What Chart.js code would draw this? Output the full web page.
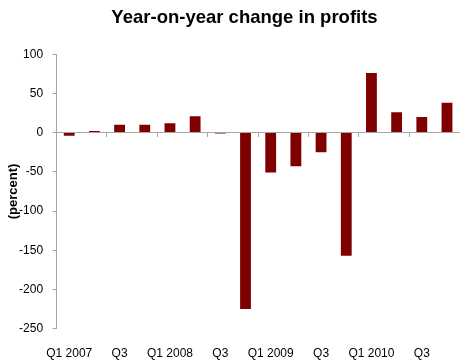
<!DOCTYPE html>
<html>
<head>
<meta charset="utf-8">
<script src="https://cdn.jsdelivr.net/npm/chart.js@4/dist/chart.umd.min.js"></script>
<style>
  html, body { margin: 0; padding: 0; background: #fff; }
  #wrap { width: 465px; height: 363px; }
</style>
</head>
<body>
<div id="wrap"><canvas id="chart"></canvas></div>
<script>
// quarters, Q1 2007 .. Q4 2010
const quarters = [
  'Q1 2007', 'Q2 2007', 'Q3 2007', 'Q4 2007',
  'Q1 2008', 'Q2 2008', 'Q3 2008', 'Q4 2008',
  'Q1 2009', 'Q2 2009', 'Q3 2009', 'Q4 2009',
  'Q1 2010', 'Q2 2010', 'Q3 2010', 'Q4 2010',
];
// only every other quarter gets a label
const tickLabels = [
  'Q1 2007', '', 'Q3', '', 'Q1 2008', '', 'Q3', '',
  'Q1 2009', '', 'Q3', '', 'Q1 2010', '', 'Q3', '',
];
// year-on-year change in profits, percent
const profitChange = [-4, 2, 10, 10, 12, 21, -1, -225, -51, -43, -25, -157, 76, 26, 20, 38];
const yTicks = [100, 50, 0, -50, -100, -150, -200, -250];

const axisGray = '#a6a6a6';
const barColor = '#800000';
const fontFamily = "'Liberation Sans', Arial, sans-serif";

Chart.defaults.font.family = fontFamily;
Chart.defaults.color = '#000';

// the title in the original sits a bit right of the canvas centre
const titleNudge = {
  id: 'titleNudge',
  afterLayout(chart) {
    if (chart.titleBlock) {
      chart.titleBlock.left += 24;
    }
  },
};

new Chart(document.getElementById('chart'), {
  type: 'bar',
  data: {
    labels: quarters,
    datasets: [
      {
        label: 'Change in profits',
        data: profitChange,
        backgroundColor: barColor,
        borderWidth: 0,
        barPercentage: 1,
        categoryPercentage: 0.43,
        xAxisID: 'x',
      },
    ],
  },
  plugins: [titleNudge],
  options: {
    responsive: true,
    maintainAspectRatio: false,
    animation: false,
    layout: { padding: { left: 0, right: 0, top: 0, bottom: -16 } },
    plugins: {
      legend: { display: false },
      tooltip: { enabled: false },
      title: {
        display: true,
        text: 'Year-on-year change in profits',
        font: { size: 18.5, weight: 'bold' },
        color: '#000',
        padding: { top: 7, bottom: 25 },
      },
    },
    scales: {
      x: {
        position: 'bottom',
        grid: { display: false, drawTicks: false },
        border: { display: false },
        ticks: {
          autoSkip: false,
          maxRotation: 0,
          padding: 18,
          font: { size: 12 },
          callback: (val, i) => tickLabels[i],
        },
      },
      // zero line with short tick marks between every second quarter
      xZero: {
        type: 'category',
        labels: quarters,
        position: { y: 0 },
        offset: true,
        border: { display: true, color: axisGray, width: 1 },
        grid: {
          offset: true,
          drawOnChartArea: false,
          drawTicks: true,
          tickLength: 4,
          color: (ctx) => (ctx.index > 0 && ctx.index < quarters.length && ctx.index % 2 === 0 ? axisGray : 'rgba(0,0,0,0)'),
        },
        ticks: { display: false },
      },
      y: {
        min: -250,
        max: 100,
        afterBuildTicks: (axis) => {
          axis.ticks = yTicks.map((v) => ({ value: v }));
        },
        border: { display: true, color: axisGray, width: 1 },
        grid: {
          drawOnChartArea: false,
          drawTicks: true,
          tickLength: 4,
          color: axisGray,
        },
        ticks: {
          padding: 9.5,
          font: { size: 12 },
        },
        title: {
          display: true,
          text: '(percent)',
          font: { size: 13, weight: 'bold' },
          padding: { top: 6, bottom: -12 },
        },
      },
    },
  },
});
</script>
</body>
</html>
